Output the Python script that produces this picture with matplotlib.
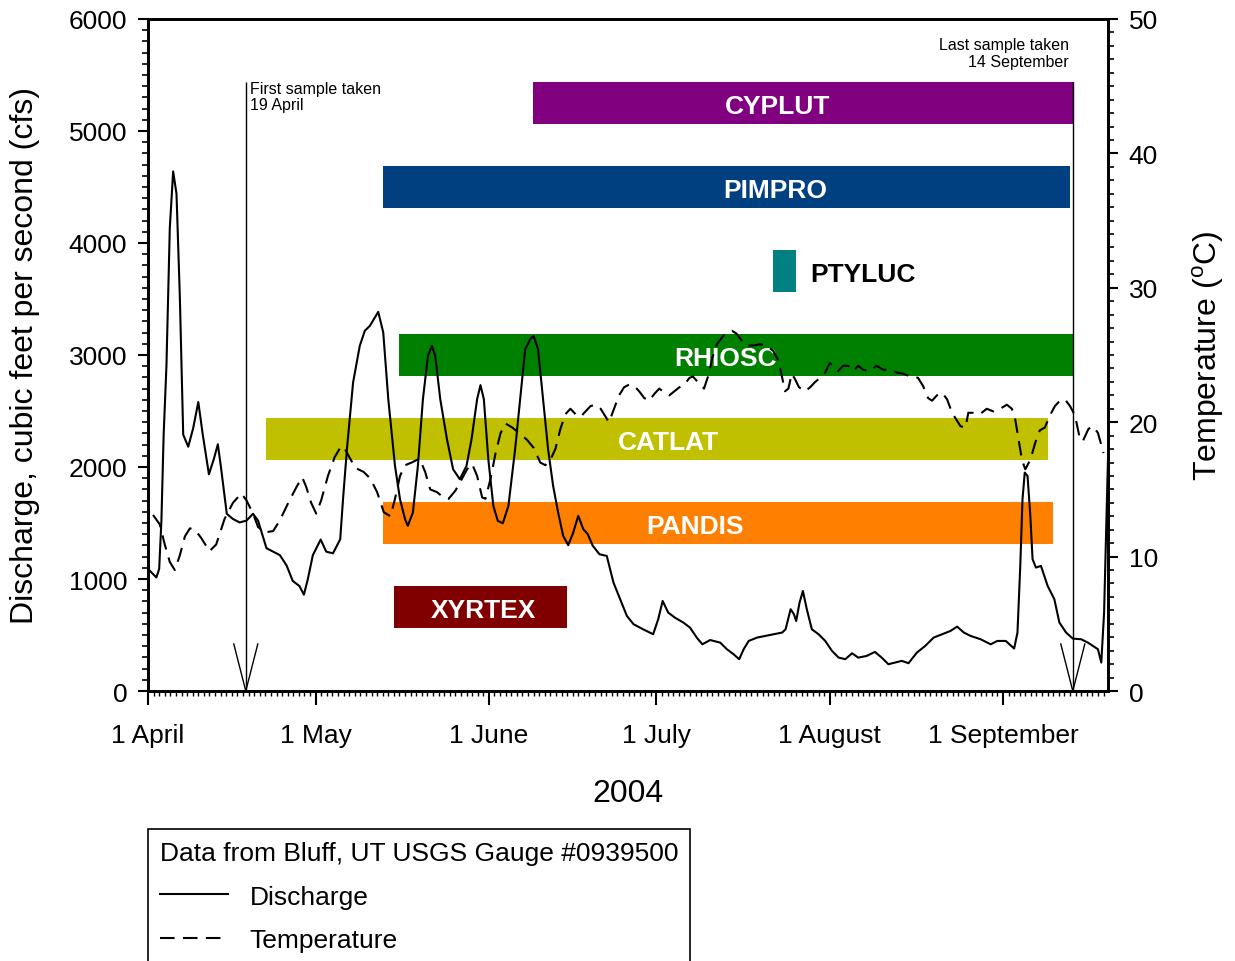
import matplotlib.pyplot as plt
from matplotlib.ticker import FixedLocator, MultipleLocator
import numpy as np

plt.rcParams['font.family'] = ['Liberation Sans', 'DejaVu Sans']
plt.rcParams['mathtext.fontset'] = 'custom'
plt.rcParams['mathtext.rm'] = 'Liberation Sans'

# x = days since 1 April 2004
q_day = [0.3, 1.5, 2.0, 2.4, 2.8, 3.3, 3.9, 4.5, 5.1, 5.7, 6.3, 7.2, 8.1, 9.0, 9.8,
         10.9, 11.8, 12.5, 13.1, 14.1, 15.2, 16.4, 17.6, 18.8, 19.7, 21.2, 22.4, 23.6,
         24.8, 25.9, 27.1, 27.9, 28.6, 29.5, 30.9, 31.9, 33.1, 34.4, 34.9, 35.6, 36.7,
         37.9, 38.8, 39.7, 41.2, 42.1, 43.0, 44.2, 45.1, 46.0, 46.5, 47.4, 48.3, 49.2,
         50.1, 50.8, 51.4, 52.3, 53.5, 54.6, 55.8, 57.0, 57.9, 58.9, 59.5, 60.1, 60.9,
         61.8, 62.6, 63.5, 64.5, 65.7, 66.9, 67.5, 68.4, 69.0, 69.8, 70.7, 71.6, 72.5,
         73.4, 74.3, 75.2, 76.1, 77.0, 77.9, 78.7, 79.6, 80.8, 82.1, 83.3, 84.5, 85.7,
         86.9, 88.6, 90.4, 91.3, 92.1, 93.1, 94.3, 95.8, 97.0, 98.2, 99.2, 100.6, 102.4,
         103.6, 104.8, 105.8, 106.6, 107.5, 109.0, 110.5, 112.0, 113.5, 114.1, 115.0,
         115.6, 116.0, 116.6, 117.2, 117.9, 118.8, 120.0, 121.2, 122.4, 123.6, 124.8,
         126.0, 127.1, 128.6, 130.1, 131.3, 132.5, 133.7, 134.9, 136.1, 137.6, 139.1,
         140.6, 142.1, 143.6, 144.8, 146.0, 147.2, 149.0, 150.8, 152.0, 153.5, 155.0,
         155.6, 156.1, 156.5, 156.9, 157.4, 157.9, 158.3, 158.9, 159.8, 161.0, 162.2,
         163.1, 164.3, 165.5, 167.0, 168.2, 169.1, 170.0, 170.6, 171.1, 171.5, 171.8]
q_cfs = [1075, 1014, 1090, 1521, 2289, 2903, 4132, 4639, 4439, 3517, 2289, 2181, 2350,
         2580, 2289, 1935, 2074, 2203, 1981, 1582, 1536, 1505, 1521, 1582, 1521, 1275,
         1244, 1213, 1121, 983, 937, 860, 998, 1213, 1352, 1244, 1229, 1355, 1712, 2159,
         2754, 3082, 3216, 3260, 3385, 3201, 2606, 2010, 1712, 1534, 1475, 1593, 2010,
         2606, 2993, 3082, 2993, 2606, 2248, 1980, 1891, 2010, 2248, 2606, 2731, 2606,
         2070, 1653, 1519, 1498, 1653, 2159, 2754, 3052, 3141, 3171, 3052, 2606, 2159,
         1831, 1593, 1385, 1302, 1415, 1564, 1445, 1400, 1296, 1221, 1206, 968, 819, 670,
         596, 551, 507, 640, 804, 700, 655, 611, 566, 477, 417, 455, 432, 373, 328, 284,
         373, 447, 477, 492, 507, 522, 551, 730, 685, 625, 789, 893, 730, 551, 507, 447,
         358, 298, 284, 337, 298, 313, 349, 298, 239, 254, 269, 248, 343, 403, 477, 507,
         536, 575, 522, 492, 462, 417, 447, 447, 379, 522, 1117, 1712, 1950, 1920, 1563,
         1177, 1102, 1117, 938, 819, 611, 522, 468, 462, 432, 403, 373, 254, 700, 1500,
         2080]

t_day = [0.9, 2.1, 3.0, 3.9, 4.8, 5.7, 6.6, 7.5, 8.4, 9.5, 11.0, 12.2, 13.7, 15.2, 16.7,
         17.6, 18.8, 19.7, 20.9, 22.4, 23.6, 25.1, 26.6, 27.6, 28.3, 29.2, 30.1, 31.0,
         32.2, 33.4, 34.4, 35.0, 35.9, 37.1, 38.6, 39.8, 41.0, 42.2, 43.4, 44.2, 45.1,
         46.0, 47.2, 48.6, 49.6, 50.5, 51.7, 52.9, 53.8, 55.0, 56.2, 57.1, 58.0, 58.9,
         59.8, 60.4, 61.3, 62.2, 63.1, 64.0, 65.2, 66.4, 67.8, 69.0, 70.2, 71.1, 72.0,
         72.9, 73.8, 74.7, 75.6, 76.5, 77.4, 78.3, 79.2, 80.1, 81.0, 81.9, 82.5, 83.4,
         84.3, 85.2, 86.1, 87.0, 87.9, 88.8, 89.7, 90.6, 91.5, 92.4, 93.3, 94.2, 95.1,
         96.0, 96.9, 97.5, 98.4, 99.5, 100.3, 101.0, 101.8, 102.9, 103.8, 104.5, 105.3,
         106.2, 107.1, 108.3, 109.5, 110.7, 111.9, 112.8, 113.4, 114.0, 114.6, 115.2,
         115.8, 116.5, 117.6, 118.5, 119.4, 120.3, 121.2, 122.0, 122.6, 123.5, 124.4,
         125.3, 126.2, 127.1, 128.0, 129.2, 130.4, 131.6, 132.8, 134.0, 135.2, 135.8,
         137.0, 137.8, 138.7, 139.6, 140.3, 141.2, 142.1, 143.0, 143.9, 144.8, 145.4,
         146.3, 146.8, 147.7, 148.9, 150.1, 151.3, 152.5, 153.7, 154.6, 155.2, 155.8,
         156.4, 157.0, 157.9, 158.8, 159.6, 160.5, 161.4, 162.3, 163.2, 164.1, 165.0,
         165.9, 166.8, 167.3, 168.3, 169.1, 170.0, 171.0]
t_degc = [13.1, 12.4, 10.9, 9.6, 9.0, 10.1, 11.5, 12.1, 12.0, 11.4, 10.4, 10.9, 12.8,
          14.0, 14.7, 14.2, 13.2, 12.2, 11.8, 11.9, 12.7, 14.0, 15.2, 15.9, 15.2, 14.0,
          13.2, 14.2, 16.0, 17.4, 18.1, 18.2, 17.5, 16.6, 16.3, 15.8, 14.8, 13.3, 13.0,
          14.3, 16.0, 16.8, 17.0, 17.3, 16.3, 15.0, 14.8, 14.4, 14.3, 14.9, 15.8, 16.5,
          16.9, 16.0, 14.4, 14.3, 15.8, 17.7, 19.2, 19.9, 19.6, 19.2, 18.7, 18.1, 17.0,
          16.8, 17.2, 18.0, 19.5, 20.6, 21.0, 20.6, 20.4, 20.8, 21.2, 21.3, 21.0, 20.4,
          20.0, 21.0, 22.0, 22.6, 22.8, 22.7, 22.3, 21.8, 21.6, 22.1, 22.5, 22.2, 22.0,
          22.3, 22.6, 22.8, 23.3, 23.4, 23.0, 22.5, 23.5, 24.8, 25.8, 26.4, 26.7, 26.8,
          26.6, 26.1, 25.7, 25.7, 25.8, 25.7, 25.3, 24.6, 23.5, 22.3, 22.5, 23.6, 23.2,
          22.6, 22.3, 22.6, 23.0, 23.3, 23.7, 24.4, 24.2, 23.8, 24.2, 24.2, 23.8, 24.2,
          23.9, 23.8, 24.2, 23.9, 23.9, 23.7, 23.6, 23.5, 23.4, 23.3, 22.7, 21.8, 21.6,
          22.0, 22.2, 21.7, 20.7, 20.1, 19.7, 19.6, 20.7, 20.7, 20.6, 21.0, 20.8, 21.0,
          21.3, 21.0, 20.2, 18.7, 17.2, 16.5, 17.2, 18.5, 19.4, 19.6, 20.5, 21.2, 21.6,
          21.7, 21.2, 20.5, 18.7, 18.6, 19.5, 19.7, 19.2, 17.7]

species = ['XYRTEX', 'PANDIS', 'CATLAT', 'RHIOSC', 'PTYLUC', 'PIMPRO', 'CYPLUT']
sp_start = [44.0, 42.1, 21.1, 44.9, 111.8, 42.1, 68.9]
sp_end = [75.0, 162.0, 161.1, 165.7, 116.0, 165.0, 165.7]
sp_color = ['#800000', '#ff8000', '#c0c000', '#008000', '#008080', '#004080', '#800080']
sp_label_day = [60.0, 97.9, 93.2, 103.3, 118.5, 112.2, 112.7]

month_day = [0, 30, 61, 91, 122, 153]
month_lbl = ['1 April', '1 May', '1 June', '1 July', '1 August', '1 September']

first_sample = 17.5
last_sample = 165.5

fig = plt.figure(figsize=(12.35, 9.62), dpi=100)
ax = fig.add_axes([148 / 1235, 1 - 692 / 962, 960 / 1235, 672 / 962])

# species occurrence bars, one row every 750 cfs
rows = 750 * (np.arange(len(species)) + 1)
ax.barh(rows, np.array(sp_end) - np.array(sp_start), left=sp_start, height=375,
        color=sp_color, zorder=1)
for name, yc, xd in zip(species, rows, sp_label_day):
    if name == 'PTYLUC':
        ax.text(xd, yc - 25, name, color='black', fontsize=19, fontweight='bold',
                ha='left', va='center', zorder=2)
    else:
        ax.text(xd, yc - 25, name, color='white', fontsize=19, fontweight='bold',
                ha='center', va='center', zorder=2)

dis_line, = ax.plot(q_day, q_cfs, color='black', lw=1.5, zorder=3, label='Discharge')

# sample markers
ax.vlines([first_sample, last_sample], 0, 5440, color='black', lw=1, zorder=4)
for s in [first_sample, last_sample]:
    ax.plot([s - 2.15, s, s + 2.15], [420, 0, 420], color='black', lw=1, zorder=4)
ax.text(first_sample + 0.7, 5450, 'First sample taken\n19 April', fontsize=11.5,
        ha='left', va='top', linespacing=1.15)
ax.text(last_sample - 0.7, 5840, 'Last sample taken\n14 September', fontsize=11.5,
        ha='right', va='top', linespacing=1.15)

ax.set_xlim(0, 171.8)
ax.set_ylim(0, 6000)
ax.xaxis.set_major_locator(FixedLocator(month_day))
ax.set_xticklabels(month_lbl)
ax.xaxis.set_minor_locator(MultipleLocator(1))
ax.yaxis.set_major_locator(MultipleLocator(1000))
ax.yaxis.set_minor_locator(MultipleLocator(100))
ax.tick_params(axis='x', which='major', direction='out', length=10, width=1.5,
               labelsize=19, pad=13)
ax.tick_params(axis='x', which='minor', direction='out', length=3.5, width=1)
ax.tick_params(axis='y', which='major', direction='out', length=7, width=1.5,
               labelsize=19, pad=8)
ax.tick_params(axis='y', which='minor', direction='out', length=4, width=1.2)

ax.set_ylabel('Discharge, cubic feet per second (cfs)', fontsize=23)
ax.yaxis.label.set_verticalalignment('center')
ax.yaxis.set_label_coords(-0.128, 0.5)
ax.set_xlabel('2004', fontsize=23)
ax.xaxis.label.set_verticalalignment('center')
ax.xaxis.set_label_coords(0.5, -0.152)

ax2 = ax.twinx()
tmp_line, = ax2.plot(t_day, t_degc, color='black', lw=1.5, ls=(0, (7, 4)),
                     label='Temperature')
ax2.set_ylim(0, 50)
ax2.yaxis.set_major_locator(MultipleLocator(10))
ax2.yaxis.set_minor_locator(MultipleLocator(1))
ax2.tick_params(axis='y', which='major', direction='out', length=7, width=1.5,
                labelsize=19, pad=8)
ax2.tick_params(axis='y', which='minor', direction='out', length=4, width=1.2)
ax2.set_ylabel('Temperature ($^{\\rm o}$C)', fontsize=23)
ax2.yaxis.label.set_verticalalignment('center')
ax2.yaxis.set_label_coords(1.104, 0.5)

for a in (ax, ax2):
    for sp in a.spines.values():
        sp.set_linewidth(2)

leg = fig.legend(handles=[dis_line, tmp_line], loc='upper left',
                 bbox_to_anchor=(148 / 1235, 1 - 830 / 962), borderaxespad=0,
                 title='Data from Bluff, UT USGS Gauge #0939500', title_fontsize=19,
                 fontsize=19, alignment='left', fancybox=False, edgecolor='black',
                 framealpha=1, handlelength=2.6, labelspacing=0.75, borderpad=0.45)
leg.get_frame().set_linewidth(1.2)

fig.savefig('out.png', dpi=100)
